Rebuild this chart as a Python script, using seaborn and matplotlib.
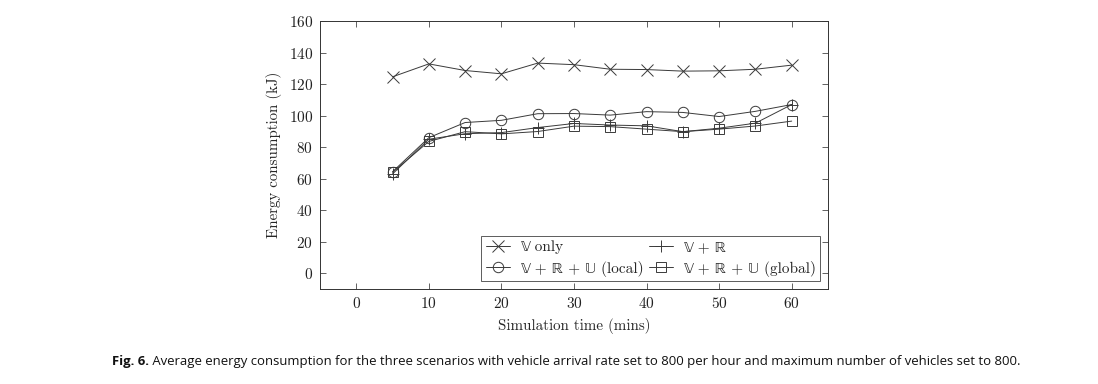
import matplotlib as mpl
mpl.use('Agg')
import matplotlib.pyplot as plt
import seaborn as sns
import pandas as pd

################################################################################
# DATA
################################################################################

times = [5, 10, 15, 20, 25, 30, 35, 40, 45, 50, 55, 60]
v_only = [124.6, 132.8, 128.6, 126.5, 133.3, 132.3, 129.4, 129.2, 128.2, 128.4, 129.4, 132.0]
v_r = [63.0, 85.0, 88.5, 89.2, 92.4, 95.0, 94.0, 93.5, 89.8, 92.0, 95.2, 107.0]
v_r_u_local = [64.4, 86.0, 95.6, 97.0, 101.2, 101.3, 100.3, 102.5, 102.0, 99.4, 102.7, 107.0]
v_r_u_global = [64.0, 83.6, 89.8, 88.4, 89.9, 93.3, 93.0, 91.4, 89.8, 91.4, 93.4, 96.5]

labels = ['\U0001D54D only',
          '\U0001D54D + \u211D',
          '\U0001D54D + \u211D + \U0001D54C (local)',
          '\U0001D54D + \u211D + \U0001D54C (global)']
series = [v_only, v_r, v_r_u_local, v_r_u_global]
marker_list = ['x', '+', 'o', 's']
xticks = [0, 10, 20, 30, 40, 50, 60]
yticks = [0, 20, 40, 60, 80, 100, 120, 140, 160]

caption_bold = 'Fig. 6.'
caption_rest = (' Average energy consumption for the three scenarios with vehicle arrival '
                'rate set to 800 per hour and maximum number of vehicles set to 800.')

################################################################################
# PLOT
################################################################################

sns.set_style('ticks')
plt.rcParams['font.family'] = ['cmr10', 'STIXGeneral', 'DejaVu Serif']
plt.rcParams['mathtext.fontset'] = 'cm'
plt.rcParams['axes.unicode_minus'] = False
plt.rcParams['axes.formatter.use_mathtext'] = True

fig = plt.figure(figsize=(10.98, 3.84), dpi=100)
ax = fig.add_axes([0.2914, 0.2474, 0.4627, 0.6979])

line_color = '#3a3a3a'
for label, values, mk in zip(labels, series, marker_list):
    df = pd.DataFrame({'time': times, 'energy': values})
    sns.lineplot(data=df, x='time', y='energy', color=line_color, marker=mk,
                 markersize=8 if mk in ('x', '+') else 7.5, mfc='none', mec=line_color,
                 mew=0.7, linewidth=0.7, label=label, ax=ax)

ax.set_xlim(-5, 65)
ax.set_ylim(-10, 160)
ax.set_xticks(xticks)
ax.set_yticks(yticks)
ax.tick_params(direction='in', top=True, right=True, length=4, width=0.5,
               labelsize=11, colors='#222222', pad=5)
for s in ax.spines.values():
    s.set_linewidth(0.7)
    s.set_color('#333333')
ax.set_xlabel('Simulation time (mins)', fontsize=10.8, labelpad=5)
ax.set_ylabel('Energy consumption (kJ)', fontsize=10.8, labelpad=5)

handles = ax.get_lines()
# ncol=2 fills column-wise, so order: V only, local, V+R, global
order = [0, 2, 1, 3]
leg = ax.legend([handles[i] for i in order], [labels[i] for i in order],
                ncol=2, loc='lower right', fontsize=11, frameon=True, fancybox=False,
                edgecolor='#333333', handlelength=1.6, handletextpad=0.7,
                columnspacing=0.35, labelspacing=0.45, borderpad=0.3,
                borderaxespad=0.5)
leg.get_frame().set_linewidth(0.7)

# caption, sized to span the same width as the reference
cap_font = ['Open Sans', 'DejaVu Sans']
cap_y = 1 - 362 / 384
cap_left = 112
cap_width = 918
size = 9.5
t1 = fig.text(cap_left / 1098, cap_y, caption_bold, fontsize=size, fontweight='bold',
              family=cap_font, va='center', ha='left', color='#111111')
t2 = fig.text(0, cap_y, caption_rest, fontsize=size,
              family=cap_font, va='center', ha='left', color='#111111')
fig.canvas.draw()
total = t1.get_window_extent().width + t2.get_window_extent().width
size = size * cap_width / total
t1.set_fontsize(size)
t2.set_fontsize(size)
fig.canvas.draw()
t2.set_x(t1.get_window_extent().x1 / fig.bbox.width)

fig.savefig('out.png', dpi=100)
